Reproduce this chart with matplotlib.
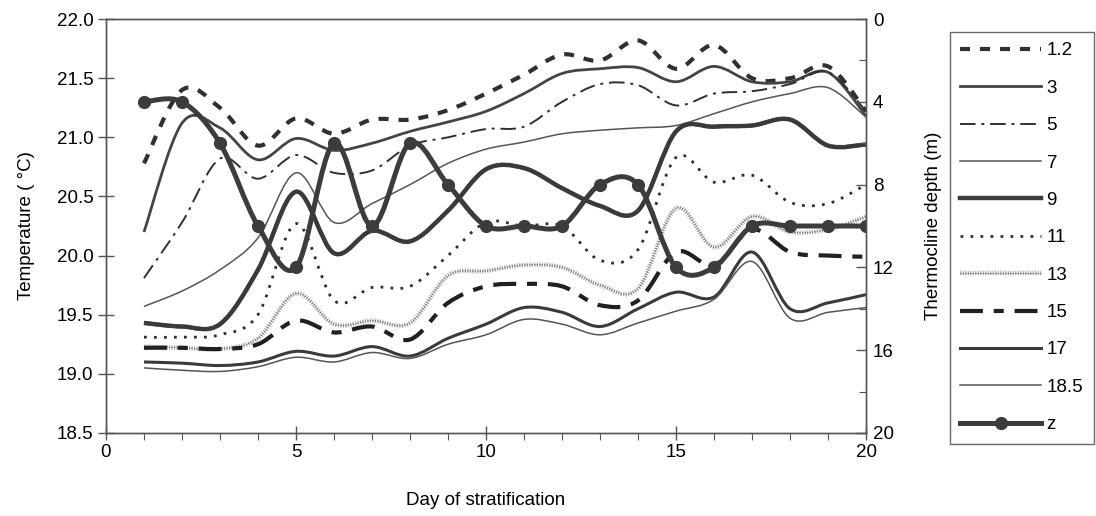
import matplotlib
matplotlib.use('Agg')
import matplotlib.pyplot as plt
import matplotlib.patheffects as pe
from matplotlib.lines import Line2D
from matplotlib.patches import PathPatch
from matplotlib.path import Path
from matplotlib.ticker import MultipleLocator
import numpy as np

plt.rcParams['font.family'] = ['Liberation Sans', 'DejaVu Sans']

days = np.arange(1, 21)

# water temperature (deg C) at each depth (m), one value per day
t_1_2 = [20.78, 21.40, 21.25, 20.93, 21.16, 21.03, 21.15, 21.15, 21.23, 21.37,
         21.53, 21.70, 21.65, 21.82, 21.58, 21.78, 21.50, 21.50, 21.60, 21.22]
t_3 = [20.20, 21.12, 21.08, 20.81, 20.99, 20.89, 20.95, 21.05, 21.13, 21.22,
       21.37, 21.54, 21.58, 21.59, 21.47, 21.60, 21.47, 21.47, 21.55, 21.18]
t_5 = [19.81, 20.28, 20.82, 20.65, 20.85, 20.70, 20.72, 20.93, 21.00, 21.07,
       21.09, 21.30, 21.45, 21.44, 21.27, 21.37, 21.39, 21.45, 21.55, 21.22]
t_7 = [19.57, 19.70, 19.88, 20.15, 20.70, 20.28, 20.44, 20.60, 20.78, 20.90,
       20.96, 21.03, 21.06, 21.08, 21.10, 21.20, 21.30, 21.37, 21.42, 21.17]
t_9 = [19.43, 19.40, 19.42, 19.88, 20.54, 20.02, 20.21, 20.12, 20.38, 20.73,
       20.74, 20.57, 20.42, 20.38, 21.05, 21.09, 21.10, 21.15, 20.93, 20.94]
t_11 = [19.31, 19.31, 19.33, 19.50, 20.27, 19.62, 19.73, 19.74, 20.00, 20.28,
        20.25, 20.25, 19.96, 20.05, 20.83, 20.62, 20.68, 20.45, 20.44, 20.60]
t_13 = [19.23, 19.22, 19.21, 19.30, 19.68, 19.42, 19.45, 19.43, 19.83, 19.87,
        19.92, 19.90, 19.75, 19.72, 20.40, 20.07, 20.33, 20.20, 20.22, 20.33]
t_15 = [19.22, 19.22, 19.21, 19.25, 19.45, 19.35, 19.40, 19.29, 19.60, 19.74,
        19.76, 19.74, 19.58, 19.62, 20.03, 19.92, 20.22, 20.03, 20.00, 19.99]
t_17 = [19.10, 19.09, 19.07, 19.10, 19.19, 19.15, 19.23, 19.15, 19.30, 19.42,
        19.56, 19.52, 19.40, 19.55, 19.69, 19.65, 20.03, 19.55, 19.60, 19.67]
t_18_5 = [19.05, 19.03, 19.02, 19.06, 19.14, 19.10, 19.18, 19.13, 19.25, 19.33,
          19.46, 19.42, 19.33, 19.43, 19.53, 19.63, 19.95, 19.47, 19.52, 19.56]

# thermocline depth (m)
z = [4, 4, 6, 10, 12, 6, 10, 6, 8, 10, 10, 10, 8, 8, 12, 12, 10, 10, 10, 10]

FS = 13.5


def smooth_path(x, y):
    # cubic Bezier through every point, spreadsheet style smoothing
    p = np.column_stack([x, y]).astype(float)
    ext = np.vstack([p[0], p, p[-1]])
    verts = [p[0]]
    codes = [Path.MOVETO]
    for i in range(len(p) - 1):
        c1 = p[i] + (ext[i + 2] - ext[i]) / 6.0
        c2 = p[i + 1] - (ext[i + 3] - ext[i + 1]) / 6.0
        verts += [c1, c2, p[i + 1]]
        codes += [Path.CURVE4] * 3
    return Path(verts, codes)


def draw(axis, y, label, color, lw, ls='-', effects=None):
    patch = PathPatch(smooth_path(days, y), fill=False, capstyle='butt',
                      joinstyle='round', edgecolor=color, linewidth=lw,
                      linestyle=ls)
    axis.add_patch(patch)
    proxy = Line2D([], [], color=color, lw=lw, ls=ls, label=label)
    if effects:
        patch.set_path_effects(effects)
        proxy.set_path_effects(effects)
    return proxy


fig = plt.figure(figsize=(10.96, 5.16), dpi=100)
ax = fig.add_axes([0.0967, 0.161, 0.6935, 0.802])
ax2 = ax.twinx()

dark = '#303030'
handles = [
    draw(ax, t_1_2, '1.2', dark, 3.0, (0, (2.4, 2.4))),
    draw(ax, t_3, '3', '#444444', 2.0),
    draw(ax, t_5, '5', dark, 1.4, (0, (8, 3, 1.5, 3))),
    draw(ax, t_7, '7', '#555555', 1.1),
    draw(ax, t_9, '9', '#3a3a3a', 2.8,
         effects=[pe.Stroke(linewidth=3.2, foreground='#505050'), pe.Normal()]),
    draw(ax, t_11, '11', dark, 2.0, (0, (1, 2.6))),
    draw(ax, t_13, '13', '#6a6a6a', 0.9, (0, (1, 1)),
         effects=[pe.Stroke(linewidth=3.2, foreground='#b5b5b5'), pe.Normal()]),
    draw(ax, t_15, '15', '#202020', 3.0, (0, (5.5, 2.6, 2.4, 2.6))),
    draw(ax, t_17, '17', '#3a3a3a', 2.2),
    draw(ax, t_18_5, '18.5', '#555555', 1.1),
]

zc = '#3c3c3c'
draw(ax2, z, 'z', zc, 3.6)
ax2.plot(days, z, ls='none', marker='o', ms=8.5, color=zc)
handles.append(Line2D([], [], color=zc, lw=3.6, marker='o', ms=8.5, label='z'))

ax.set_xlim(0, 20)
ax.set_ylim(18.5, 22.0)
ax2.set_ylim(20, 0)

ax.xaxis.set_major_locator(MultipleLocator(5))
ax.xaxis.set_minor_locator(MultipleLocator(1))
ax.yaxis.set_major_locator(MultipleLocator(0.5))
ax.yaxis.set_major_formatter('{x:.1f}')
ax2.yaxis.set_major_locator(MultipleLocator(4))
ax2.yaxis.set_minor_locator(MultipleLocator(2))

ax.tick_params(axis='x', which='major', direction='inout', length=10, width=1,
               color='#555555', labelsize=FS, pad=3)
ax.tick_params(axis='x', which='minor', direction='out', length=5, width=0.8,
               color='#555555')
ax.tick_params(axis='y', which='major', direction='inout', length=12, width=1,
               color='#555555', labelsize=FS, pad=3)
ax2.tick_params(axis='y', which='major', direction='in', length=7, width=1,
                color='#555555', labelsize=FS, pad=5)
ax2.tick_params(axis='y', which='minor', direction='in', length=5, width=0.8,
                color='#555555')

for a in (ax, ax2):
    for s in a.spines.values():
        s.set_color('#555555')
        s.set_linewidth(1.0)

ax.set_xlabel('Day of stratification', fontsize=FS, labelpad=22)
ax.set_ylabel('Temperature ( \u00b0C)', fontsize=FS, labelpad=16)
ax2.set_ylabel('Thermocline depth (m)', fontsize=FS, labelpad=22)

leg = fig.legend(handles=handles, loc='upper left',
                 bbox_to_anchor=(950 / 1096, 1 - 32 / 516), fontsize=FS,
                 frameon=True, fancybox=False, edgecolor='#444444',
                 handlelength=4.3, handletextpad=0.3, labelspacing=1.08,
                 borderpad=0.55, borderaxespad=0)
leg.get_frame().set_linewidth(1.0)

fig.savefig('out.png', dpi=100)
